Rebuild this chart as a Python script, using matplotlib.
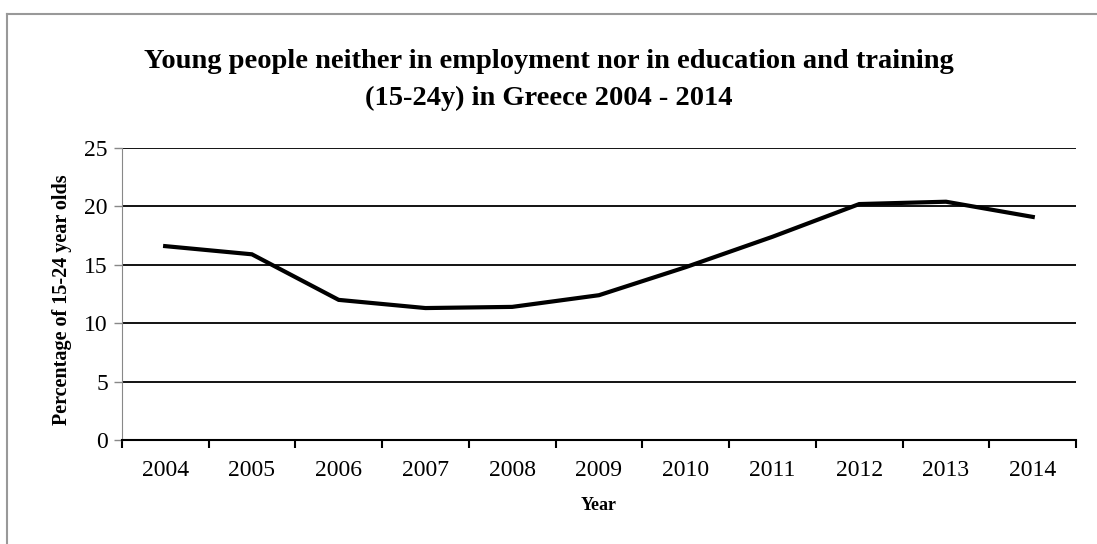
import matplotlib.pyplot as plt
import numpy as np

plt.rcParams['font.family'] = ['Liberation Serif', 'DejaVu Serif']

years = ['2004', '2005', '2006', '2007', '2008', '2009', '2010', '2011', '2012', '2013', '2014']
neet = [16.6, 15.9, 12.0, 11.3, 11.4, 12.4, 14.8, 17.4, 20.2, 20.4, 19.1]

fig = plt.figure(figsize=(10.97, 5.44), dpi=100)
ax = fig.add_axes([0.111, 0.191, 0.870, 0.537])

# grey frame around the chart area (only top and left show in the reference)
fig.add_artist(plt.Line2D([7/1097, 7/1097], [0, 1 - 14/544], color='#999999', lw=1.5))
fig.add_artist(plt.Line2D([7/1097, 1], [1 - 14/544, 1 - 14/544], color='#999999', lw=1.5))

x = np.arange(len(years))
ax.plot(x, neet, color='black', lw=3, solid_joinstyle='miter', zorder=3)

ax.set_ylim(0, 25)
ax.set_yticks(np.arange(0, 26, 5))
ax.yaxis.grid(True, color='black', lw=1.3)
ax.set_axisbelow(True)

ax.set_xlim(-0.5, len(years) - 0.5)
ax.set_xticks(np.arange(-0.5, len(years), 1))
ax.set_xticklabels([])
ax.set_xticks(x, minor=True)
ax.set_xticklabels(years, minor=True)
ax.tick_params(axis='x', which='major', direction='out', length=6, width=1.5, color='black')
ax.tick_params(axis='x', which='minor', length=0, labelsize=17, pad=14)
ax.tick_params(axis='y', direction='out', length=6, width=1, color='#888888', labelsize=17, pad=4)

for s in ['top', 'right']:
    ax.spines[s].set_visible(False)
ax.spines['left'].set_color('#888888')
ax.spines['bottom'].set_color('black')
ax.spines['bottom'].set_linewidth(1.5)

ax.set_xlabel('Year', fontsize=13, fontweight='bold', labelpad=12)
ax.set_ylabel('Percentage of 15-24 year olds', fontsize=14.5, fontweight='bold')
ax.yaxis.set_label_coords(-0.052, 0.479)
fig.text(0.5, 1 - 80/544,
         'Young people neither in employment nor in education and training\n(15-24y) in Greece 2004 - 2014',
         fontsize=20.5, fontweight='bold', ha='center', va='center', linespacing=1.6)

fig.savefig('out.png', dpi=100, facecolor='white')
